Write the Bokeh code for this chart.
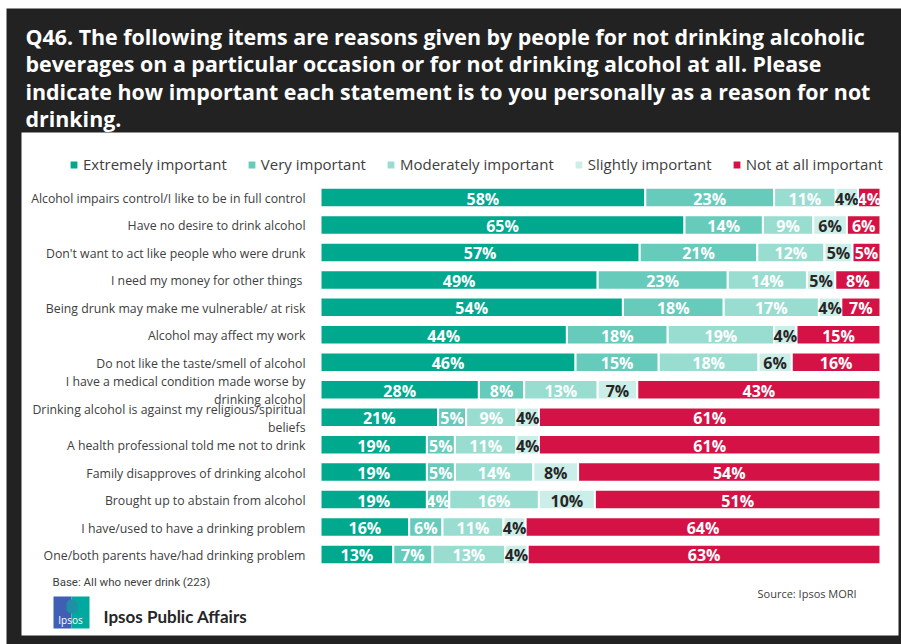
from bokeh.plotting import figure
from bokeh.models import (ColumnDataSource, Range1d, Label, BoxAnnotation, Legend)
from bokeh.core.properties import value
from bokeh.embed import file_html
from bokeh.resources import INLINE

# ---------------- data ----------------
categories = [
    "Alcohol impairs control/I like to be in full control",
    "Have no desire to drink alcohol",
    "Don't want to act like people who were drunk",
    "I need my money  for other things",
    "Being drunk may make me vulnerable/ at risk",
    "Alcohol may affect my work",
    "Do not like the taste/smell of alcohol",
    "I have a medical condition made worse by\ndrinking alcohol",
    "Drinking alcohol is against my religious/spiritual\nbeliefs",
    "A health professional told me not to drink",
    "Family disapproves of drinking alcohol",
    "Brought up to abstain from alcohol",
    "I have/used to have a drinking problem",
    "One/both parents have/had drinking problem",
]
series = ["Extremely important", "Very important", "Moderately important",
          "Slightly important", "Not at all important"]
extremely = [58, 65, 57, 49, 54, 44, 46, 28, 21, 19, 19, 19, 16, 13]
very = [23, 14, 21, 23, 18, 18, 15, 8, 5, 5, 5, 4, 6, 7]
moderately = [11, 9, 12, 14, 17, 19, 18, 13, 9, 11, 14, 16, 11, 13]
slightly = [4, 6, 5, 5, 4, 4, 6, 7, 4, 4, 8, 10, 4, 4]
not_at_all = [4, 6, 5, 8, 7, 15, 16, 43, 61, 61, 54, 51, 64, 63]

colors = ["#00a88e", "#66cbba", "#99ddd1", "#cceee8", "#d51245"]
label_colors = ["white", "white", "white", "#262626", "white"]

title_text = ("Q46. The following items are reasons given by people for not drinking alcoholic\n"
              "beverages on a particular occasion or for not drinking alcohol at all.  Please\n"
              "indicate how important each statement is to you personally as a reason for not\n"
              "drinking.")
base_text = "Base:  All who never drink (223)"
source_text = "Source: Ipsos MORI"
brand_text = "Ipsos Public Affairs"

# ---------------- sources ----------------
vals = [extremely, very, moderately, slightly, not_at_all]
keys = ["w0", "w1", "w2", "w3", "w4"]
rows = list(range(len(categories)))
data = {"row": rows, "cat": categories}
totals = [sum(v[i] for v in vals) for i in rows]
for k, v in zip(keys, vals):
    data[k] = [x / t * 100 for x, t in zip(v, totals)]
src = ColumnDataSource(data)

lx, ly, lt, lc = [], [], [], []
for i in rows:
    left = 0.0
    for j, k in enumerate(keys):
        w = data[k][i]
        lx.append(left + w / 2)
        ly.append(i)
        lt.append(f"{vals[j][i]}%")
        lc.append(label_colors[j])
        left += w
lab_src = ColumnDataSource(dict(x=lx, y=ly, text=lt, color=lc))
cat_src = ColumnDataSource(dict(x=[0] * len(rows), y=rows, text=categories))

# ---------------- figure ----------------
W, H = 901, 644
p = figure(width=W, height=H, output_backend="svg", toolbar_location=None,
           x_range=Range1d(-57.143, 103.75), y_range=Range1d(16.278, -7.174),
           min_border=0)
p.background_fill_color = "white"
p.border_fill_color = "white"
p.outline_line_color = None
p.grid.visible = False
p.axis.visible = False


def sy(y_top):
    return H - y_top


def box(l, r, t, b, color, level="underlay", **kw):
    return BoxAnnotation(left=l, right=r, top=sy(t), bottom=sy(b),
                         left_units="screen", right_units="screen",
                         top_units="screen", bottom_units="screen",
                         fill_color=color, fill_alpha=1, line_alpha=0,
                         level=level, **kw)


p.add_layout(box(6, W, 8, H, "#222222"))
p.add_layout(box(21, 898, 132, 635, "white"))

rs = p.hbar_stack(keys, y="row", height=0.71, color=colors, source=src,
                  line_color="white", line_width=2)

p.text(x="x", y="y", text="text", source=lab_src, text_color="color",
       text_font=value("Open Sans"), text_font_style="bold",
       text_font_size="16px", text_align="center", text_baseline="middle",
       y_offset=1)

p.text(x="x", y="y", text="text", source=cat_src, text_color="#404040",
       text_font=value("Open Sans"), text_font_size="12.3px",
       text_align="right", text_baseline="middle", x_offset=-15,
       y_offset=1, text_line_height=1.05)

legend = Legend(items=[(s, [r]) for s, r in zip(series, rs)],
                orientation="horizontal", location=(68, sy(174)),
                padding=0, margin=0, spacing=19, label_standoff=4,
                glyph_width=11, glyph_height=11,
                label_text_font="Open Sans", label_text_font_size="15px",
                label_text_color="#404040", label_height=20,
                background_fill_alpha=0, border_line_alpha=0)
p.add_layout(legend)

p.add_layout(Label(x=25, y=sy(21), x_units="screen", y_units="screen",
                   text=title_text, text_color="white",
                   text_font="Open Sans", text_font_style="bold",
                   text_font_size="21.4px", text_line_height=0.95,
                   text_baseline="top"))
p.add_layout(Label(x=52, y=sy(581), x_units="screen", y_units="screen",
                   text=base_text, text_color="#404040",
                   text_font="Roboto", text_font_size="11.5px",
                   text_baseline="middle"))
p.add_layout(Label(x=757, y=sy(593), x_units="screen", y_units="screen",
                   text=source_text, text_color="#404040",
                   text_font="Open Sans", text_font_size="11px",
                   text_baseline="middle"))
# logo
p.add_layout(box(53, 71, 596, 628, "#3f5fb5", level="annotation"))
p.add_layout(box(71, 89, 596, 628, "#00a99d", level="annotation"))
p.add_layout(box(66, 77, 599, 613, "#1f8fa6", level="annotation",
                 border_radius=5))
p.add_layout(Label(x=70, y=sy(619), x_units="screen", y_units="screen",
                   text="Ipsos", text_color="white", text_font="Open Sans",
                   text_font_size="10px", text_align="center",
                   text_baseline="middle"))
p.add_layout(Label(x=103, y=sy(616), x_units="screen", y_units="screen",
                   text=brand_text, text_color="#262626",
                   text_font="Lato", text_font_style="bold",
                   text_font_size="17px", text_baseline="middle"))

open("out.html", "w").write(file_html(p, INLINE))
